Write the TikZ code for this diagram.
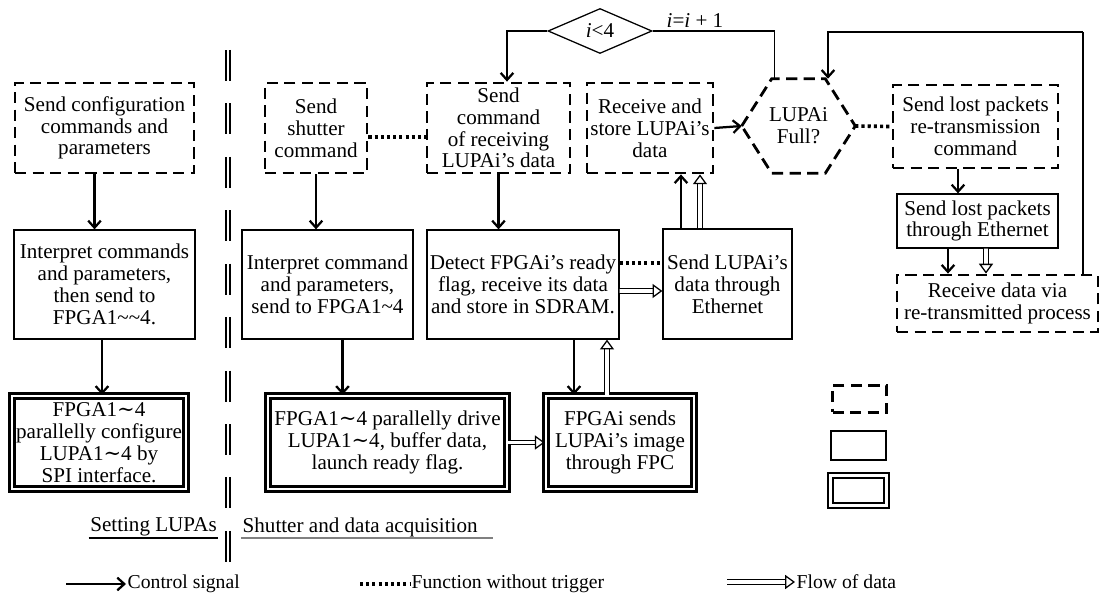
\documentclass[tikz,border=0pt]{standalone}
\usepackage{fontspec}
\setmainfont{Liberation Serif}
\newfontfamily\symfont{DejaVu Serif}
\usetikzlibrary{arrows.meta, calc, shapes.geometric}

\newlength\unitpx
\setlength\unitpx{0.025cm}
\newcommand\wtilde{{\symfont ∼}}

\tikzset{
  cmdline/.style={line width=2pt, dash pattern=on 8pt off 4.5pt},
  cmdbox/.style={draw, cmdline, align=center, inner sep=1pt},
  procbox/.style={draw, line width=0.9pt, align=center, inner sep=1pt},
  hwbox/.style={draw, double, double distance=1.6pt, line width=1.7pt,
    align=center, inner sep=1pt},
  sz/.style 2 args={minimum width=#1\unitpx, minimum height=#2\unitpx},
  ctrl/.style={line width=1.6pt, -{Straight Barb[length=5pt, width=9pt]}},
  flow/.style={double, double distance=2.6pt, line width=0.8pt,
    -{Triangle[open, length=7pt, width=10pt, line width=0.9pt]}},
  notrig/.style={line width=2.6pt, dash pattern=on 2.2pt off 2.2pt},
  divider/.style={double, double distance=1.4pt, line width=1.6pt,
    dash pattern=on 22pt off 16pt},
}

\begin{document}
\begin{tikzpicture}[
  x=0.025cm, y=-0.025cm,
  font=\fontsize{15}{15.5}\selectfont,
]
\useasboundingbox (0,0) rectangle (1101,603);

%% ─── layout in pixel units (x right, y down) ───────────────
%%  left column: setting LUPAs, x < 228
%%  right of the divider: shutter and data acquisition

% ── divider ─────────────────────────────────────────────────
\draw[divider] (228,50) -- (228,563);

% ── setting LUPAs ───────────────────────────────────────────
\node[cmdbox, sz={179}{90}] (cfg) at (104.5,128)
  {Send configuration\\commands and\\parameters};
\node[procbox, sz={181}{109}] (interpL) at (104.5,284.5)
  {Interpret commands\\and parameters,\\then send to\\FPGA1\textasciitilde\textasciitilde 4.};
\node[hwbox, sz={174}{93}] (confL) at (99,442.5)
  {FPGA1\wtilde 4\\parallelly configure\\LUPA1\wtilde 4 by\\SPI interface.};

\draw[ctrl] ($(cfg.south)+(-10,0)$) -- ($(interpL.north)+(-10,0)$);
\draw[ctrl] ($(interpL.south)+(-2.5,0)$) -- ($(confL.north)+(3,0)$);

% ── shutter and command row ─────────────────────────────────
\node[cmdbox, sz={102}{90}] (shut) at (316,128)
  {Send\\shutter\\command};
\node[cmdbox, sz={143}{90}] (rcvcmd) at (498.5,128)
  {Send\\command\\of receiving\\LUPAi’s data};
\node[cmdbox, sz={126}{90}] (store) at (650,128)
  {Receive and\\store LUPAi’s\\data};

% LUPAi full? (hexagon drawn around a plain node)
\node[sz={113}{94}, align=center, inner sep=1pt] (full) at (798.5,126)
  {LUPAi\\Full?};
\draw[cmdline] (full.west) -- ($(full.north west)+(30,0)$)
  -- ($(full.north east)+(-30,0)$) -- (full.east)
  -- ($(full.south east)+(-30,0)$) -- ($(full.south west)+(30,0)$) -- cycle;

\node[cmdbox, sz={165}{83}] (resend) at (975.5,126.5)
  {Send lost packets\\re-transmission\\command};
\node[procbox, sz={161}{54}] (lostEth) at (977.5,221)
  {Send lost packets\\through Ethernet};
\node[cmdbox, sz={201}{57}] (redo) at (997.5,303.5)
  {Receive data via\\re-transmitted process};

% ── loop counter ────────────────────────────────────────────
\node[draw, diamond, aspect=2.3, line width=0.9pt, sz={104}{45},
  inner sep=0pt] (cond) at (600,31) {\textit{i}<4};
\node (incr) at (695,21) {\textit{i}=\textit{i} + 1};
\coordinate (ret) at (1083,32);

% ── middle row ──────────────────────────────────────────────
\node[procbox, sz={171}{109}] (interpM) at (327.5,284.5)
  {Interpret command\\and parameters,\\send to FPGA1\textasciitilde 4};
\node[procbox, sz={192}{109}] (detect) at (523,284.5)
  {Detect FPGAi’s ready\\flag, receive its data\\and store in SDRAM.};
\node[procbox, sz={129}{110}] (sendEth) at (727.5,284)
  {Send LUPAi’s\\data through\\Ethernet};

% ── bottom row ──────────────────────────────────────────────
\node[hwbox, sz={239}{93}] (drive) at (387.5,442.5)
  {FPGA1\wtilde 4 parallelly drive\\LUPA1\wtilde 4, buffer data,\\launch ready flag.};
\node[hwbox, sz={148}{93}] (fpc) at (620,442.5)
  {FPGAi sends\\LUPAi’s image\\through FPC};

% ── control signals ─────────────────────────────────────────
\draw[ctrl] (shut.south) -- (shut.south |- interpM.north);
\draw[ctrl] (rcvcmd.south) -- (rcvcmd.south |- detect.north);
\draw[ctrl] ($(interpM.south)+(15,0)$) -- ($(drive.north)+(-45,0)$);
\draw[ctrl] ($(detect.south)+(51,0)$) -- ($(fpc.north)+(-46,0)$);
\draw[ctrl] ($(sendEth.north)+(-46.5,0)$) -- ($(store.south)+(31,0)$);
\draw[ctrl] (store.east) -- (full.west);
\draw[ctrl] ($(resend.south)+(-17.5,0)$) -- ($(lostEth.north)+(-19.5,0)$);
\draw[ctrl] ($(lostEth.south)+(-29.5,0)$) -- ($(redo.north)+(-49.5,0)$);

% loop back: i = i + 1
\draw[line width=0.9pt] ($(full.north west)+(33,0)$) |- (cond.east);
\draw[ctrl] (cond.west) -| ($(rcvcmd.north)+(8.5,0)$);
% loop back: lost packets received
\draw[line width=1pt] (redo.north -| ret) -- (ret);
\draw[ctrl] (ret) -| ($(full.north)+(29.5,0)$);

% ── functions without trigger ───────────────────────────────
\draw[notrig] ($(shut.east)+(0,9)$) -- ($(rcvcmd.west)+(0,9)$);
\draw[notrig] ($(detect.east)+(0,-21.5)$) -- ($(sendEth.west)+(0,-21)$);
\draw[notrig] (full.east) -- (resend.west);

% ── flow of data ────────────────────────────────────────────
\draw[flow] (drive.east) -- (fpc.west);
\draw[flow] ($(fpc.north)+(-13,0)$) -- ($(detect.south)+(84,0)$);
\draw[flow] ($(detect.east)+(0,6.5)$) -- ($(sendEth.west)+(0,7)$);
\draw[flow] ($(sendEth.north)+(-27.5,0)$) -- ($(store.south)+(50,0)$);
\draw[flow] ($(lostEth.south)+(8.5,0)$) -- ($(redo.north)+(-11.5,0)$);

% ── section labels ──────────────────────────────────────────
\node[inner sep=1pt] (setlbl) at (153.5,527) {Setting LUPAs};
\draw[line width=1.4pt] (setlbl.south west) -- (setlbl.south east);
\node[inner sep=1pt, anchor=west] (acqlbl) at (241,527) {Shutter and data acquisition};
\draw[gray, line width=1.4pt] (acqlbl.south west) -- ++(252,0);

% ── box legend ──────────────────────────────────────────────
\node[cmdbox, sz={54}{27}] (keycmd) at (859.5,399) {};
\node[procbox, sz={55}{29}] (keyproc) at (858.5,445.5) {};
\node[hwbox, sz={56}{30}] (keyhw) at (858.5,490.5) {};

% ── line legend ─────────────────────────────────────────────
\begin{scope}[font=\fontsize{14}{15}\selectfont]
  \coordinate (lgctrl0) at (66,584);
  \node[anchor=west, inner sep=1pt] (lgctrl) at (126,584) {Control signal};
  \draw[ctrl] (lgctrl0) -- (lgctrl.west);

  \coordinate (lgdot0) at (360,584);
  \node[anchor=west, inner sep=1pt] (lgdot) at (410,584) {Function without trigger};
  \draw[notrig] (lgdot0) -- (lgdot.west);

  \coordinate (lgflow0) at (727,582);
  \node[anchor=west, inner sep=1pt] (lgflow) at (795,582) {Flow of data};
  \draw[flow] (lgflow0) -- (lgflow.west);
\end{scope}

\end{tikzpicture}
\end{document}
